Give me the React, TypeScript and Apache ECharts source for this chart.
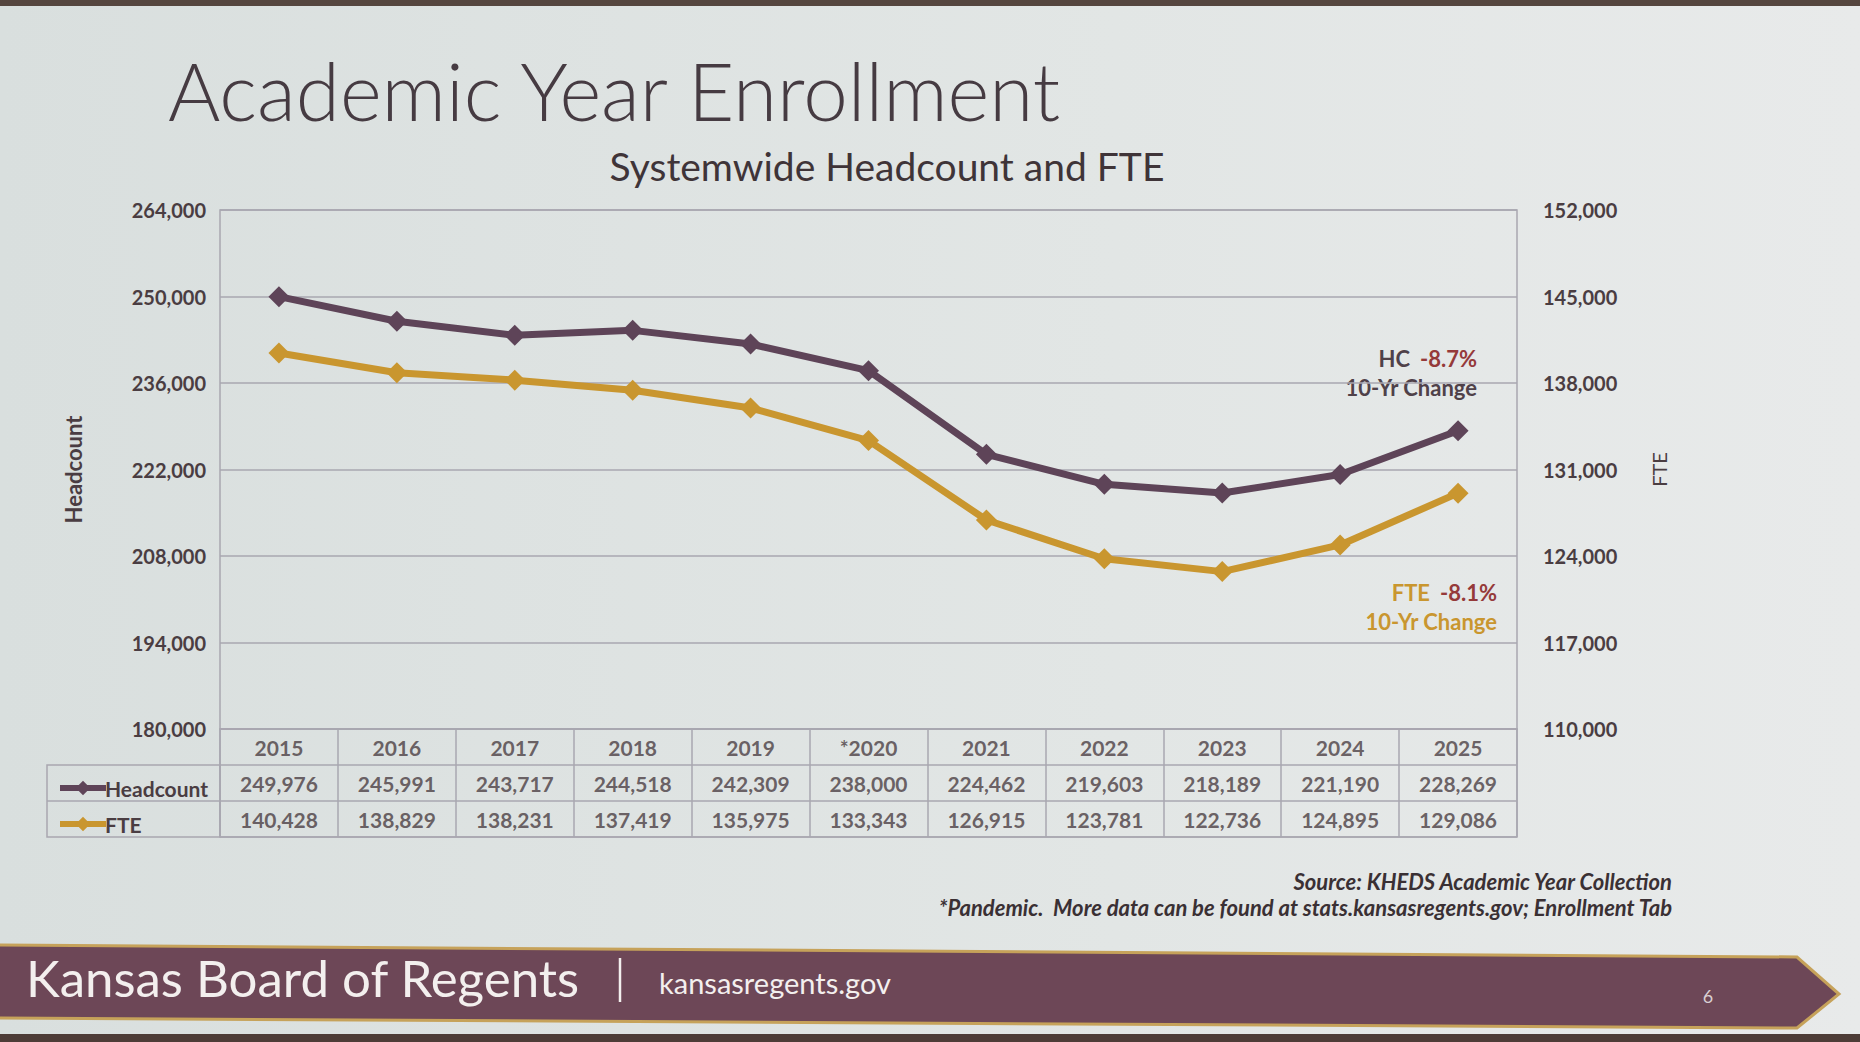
import React, { useEffect, useRef } from "react";
import * as echarts from "echarts";

// Academic-year enrollment, systemwide
const years = ["2015", "2016", "2017", "2018", "2019", "*2020", "2021", "2022", "2023", "2024", "2025"];
const headcount = [249976, 245991, 243717, 244518, 242309, 238000, 224462, 219603, 218189, 221190, 228269];
const fte = [140428, 138829, 138231, 137419, 135975, 133343, 126915, 123781, 122736, 124895, 129086];

// Axis tick ranges
const hcMin = 180000;
const hcMax = 264000;
const hcStep = 14000;
const fteMin = 110000;
const fteMax = 152000;
const fteStep = 7000;

// Rows of the data table under the plot
const tableRows = ["Year", "Headcount", "FTE"];

const FONT = "Lato, 'Open Sans', sans-serif";
const TXT = "#4a3d42";
const HC_C = "#5e4458";
const FTE_C = "#c9962f";
const GRID_C = "#a9a7b0";
const BANNER = "#6d4757";

const fmt = (v: number) => v.toLocaleString("en-US");
const pct = (arr: number[]) => (((arr[arr.length - 1] - arr[0]) / arr[0]) * 100).toFixed(1) + "%";

export default function App() {
  const ref = useRef<HTMLDivElement>(null);

  useEffect(() => {
    if (!ref.current) return;
    const chart = echarts.init(ref.current, undefined, { renderer: "svg" });

    const GL = 220;
    const GW = 1297;
    const GT = 210;
    const GH = 519;
    const ROW = 36;
    const TT = GT + GH;

    // Cells of the table: [column, row, text]
    const cells: any[] = [];
    years.forEach((y, i) => {
      cells.push([i, tableRows[0], y]);
      cells.push([i, tableRows[1], fmt(headcount[i])]);
      cells.push([i, tableRows[2], fmt(fte[i])]);
    });

    const noteStyle = (fill: string) => ({ fontFamily: FONT, fontWeight: "bold", fontSize: 22, fill });

    const option: any = {
      animation: false,
      backgroundColor: {
        type: "linear",
        x: 0,
        y: 0,
        x2: 1,
        y2: 0,
        colorStops: [
          { offset: 0, color: "#d9dfde" },
          { offset: 0.6, color: "#e2e6e5" },
          { offset: 1, color: "#e8eaea" },
        ],
      },
      legend: {
        orient: "vertical",
        left: 52,
        top: TT + ROW + (ROW - 22) / 2,
        itemWidth: 46,
        itemHeight: 18,
        itemGap: ROW - 22,
        data: ["Headcount", "FTE"],
        lineStyle: { width: 6 },
        textStyle: {
          fontFamily: FONT,
          fontWeight: "bold",
          fontSize: 21,
          color: TXT,
          lineHeight: 22,
          padding: [0, 0, 0, -6],
        },
      },
      grid: [
        { left: GL, top: GT, width: GW, height: GH, show: true, borderColor: GRID_C, borderWidth: 1.5 },
        { left: GL, top: TT, width: GW, height: ROW * 3, show: true, borderColor: GRID_C, borderWidth: 1.5 },
      ],
      xAxis: [
        {
          type: "category",
          gridIndex: 0,
          data: years,
          boundaryGap: true,
          axisLabel: { show: false },
          axisTick: { show: false },
          axisLine: { show: true, lineStyle: { color: GRID_C, width: 1.5 } },
          splitLine: { show: false },
        },
        {
          type: "category",
          gridIndex: 1,
          data: years,
          boundaryGap: true,
          axisLabel: { show: false },
          axisTick: { show: false },
          axisLine: { show: false },
          splitLine: { show: true, interval: 0, lineStyle: { color: GRID_C, width: 1.5 } },
        },
      ],
      yAxis: [
        {
          type: "value",
          gridIndex: 0,
          position: "left",
          min: 0,
          max: hcMax - hcMin,
          interval: hcStep,
          axisLine: { show: false },
          axisTick: { show: false },
          axisLabel: {
            formatter: (v: number) => fmt(v + hcMin),
            fontFamily: FONT,
            fontWeight: "bold",
            fontSize: 20,
            color: TXT,
            margin: 14,
          },
          splitLine: { show: true, lineStyle: { color: GRID_C, width: 1.5 } },
          name: "Headcount",
          nameLocation: "middle",
          nameGap: 136,
          nameRotate: 90,
          nameTextStyle: { fontFamily: FONT, fontWeight: "bold", fontSize: 22, color: TXT },
        },
        {
          type: "value",
          gridIndex: 0,
          position: "right",
          min: 0,
          max: fteMax - fteMin,
          interval: fteStep,
          axisLine: { show: false },
          axisTick: { show: false },
          axisLabel: {
            formatter: (v: number) => fmt(v + fteMin),
            fontFamily: FONT,
            fontWeight: "bold",
            fontSize: 20,
            color: TXT,
            margin: 26,
          },
          splitLine: { show: false },
          name: "FTE",
          nameLocation: "middle",
          nameGap: 132,
          nameRotate: 90,
          nameTextStyle: { fontFamily: FONT, fontSize: 20, color: TXT },
        },
        {
          type: "category",
          gridIndex: 1,
          data: tableRows,
          inverse: true,
          boundaryGap: true,
          axisLabel: { show: false },
          axisTick: { show: false },
          axisLine: { show: false },
          splitLine: { show: true, interval: 0, lineStyle: { color: GRID_C, width: 1.5 } },
        },
      ],
      series: [
        {
          name: "Headcount",
          type: "line",
          xAxisIndex: 0,
          yAxisIndex: 0,
          data: headcount.map((v) => v - hcMin),
          symbol: "diamond",
          symbolSize: 21,
          lineStyle: { width: 7, color: HC_C },
          itemStyle: { color: HC_C },
          z: 3,
        },
        {
          name: "FTE",
          type: "line",
          xAxisIndex: 0,
          yAxisIndex: 1,
          data: fte.map((v) => v - fteMin),
          symbol: "diamond",
          symbolSize: 21,
          lineStyle: { width: 7, color: FTE_C },
          itemStyle: { color: FTE_C },
          z: 3,
        },
        {
          type: "scatter",
          xAxisIndex: 1,
          yAxisIndex: 2,
          symbolSize: 1,
          silent: true,
          itemStyle: { color: "transparent" },
          data: cells,
          label: {
            show: true,
            position: "inside",
            formatter: (p: any) => p.value[2],
            fontFamily: FONT,
            fontWeight: "bold",
            fontSize: 21,
            color: TXT,
          },
        },
      ],
      graphic: [
        // dark strip along the top edge
        { type: "rect", shape: { x: 0, y: 0, width: 1860, height: 6 }, style: { fill: "#55463f" } },
        {
          type: "text",
          x: 168,
          y: 90,
          style: {
            text: "Academic Year Enrollment",
            fontFamily: FONT,
            fontWeight: 300,
            fontSize: 80,
            fill: "#463b42",
            textAlign: "left",
            textVerticalAlign: "middle",
          },
        },
        {
          type: "text",
          x: 887,
          y: 166,
          style: {
            text: "Systemwide Headcount and FTE",
            fontFamily: FONT,
            fontSize: 39,
            fill: "#3f3438",
            textAlign: "center",
            textVerticalAlign: "middle",
          },
        },
        // key column of the table
        {
          type: "rect",
          shape: { x: 47, y: TT + ROW, width: GL - 47, height: ROW * 2 },
          style: { fill: "none", stroke: GRID_C, lineWidth: 1.5 },
        },
        {
          type: "line",
          shape: { x1: 47, y1: TT + ROW * 2, x2: GL, y2: TT + ROW * 2 },
          style: { stroke: GRID_C, lineWidth: 1.5 },
        },
        // 10-year change notes
        {
          type: "text",
          x: 1477,
          y: 358,
          style: {
            text: "{a|HC}   {b|" + pct(headcount) + "}",
            textAlign: "right",
            textVerticalAlign: "middle",
            rich: { a: noteStyle("#4f4149"), b: noteStyle("#953a3a") },
          },
        },
        {
          type: "text",
          x: 1477,
          y: 387,
          style: {
            text: "10-Yr Change",
            ...noteStyle("#4f4149"),
            textAlign: "right",
            textVerticalAlign: "middle",
          },
        },
        {
          type: "text",
          x: 1497,
          y: 592,
          style: {
            text: "{a|FTE}   {b|" + pct(fte) + "}",
            textAlign: "right",
            textVerticalAlign: "middle",
            rich: { a: noteStyle(FTE_C), b: noteStyle("#953a3a") },
          },
        },
        {
          type: "text",
          x: 1497,
          y: 621,
          style: {
            text: "10-Yr Change",
            ...noteStyle(FTE_C),
            textAlign: "right",
            textVerticalAlign: "middle",
          },
        },
        // source notes
        {
          type: "text",
          x: 1672,
          y: 881,
          style: {
            text: "Source: KHEDS Academic Year Collection",
            fontFamily: FONT,
            fontStyle: "italic",
            fontWeight: "bold",
            fontSize: 22,
            fill: "#3a3034",
            textAlign: "right",
            textVerticalAlign: "middle",
          },
        },
        {
          type: "text",
          x: 1672,
          y: 907,
          style: {
            text: "*Pandemic.  More data can be found at stats.kansasregents.gov; Enrollment Tab",
            fontFamily: FONT,
            fontStyle: "italic",
            fontWeight: "bold",
            fontSize: 22,
            fill: "#3a3034",
            textAlign: "right",
            textVerticalAlign: "middle",
          },
        },
        // footer banner
        {
          type: "polygon",
          shape: {
            points: [
              [-4, 945],
              [1797, 957],
              [1839, 994],
              [1797, 1028],
              [-4, 1018],
            ],
          },
          style: { fill: BANNER, stroke: "#c6a25a", lineWidth: 3 },
        },
        {
          type: "text",
          x: 26,
          y: 977,
          style: {
            text: "Kansas Board of Regents",
            fontFamily: FONT,
            fontSize: 51,
            fill: "#f3efee",
            textAlign: "left",
            textVerticalAlign: "middle",
          },
        },
        {
          type: "line",
          shape: { x1: 620, y1: 958, x2: 620, y2: 1002 },
          style: { stroke: "#f3efee", lineWidth: 2.5 },
        },
        {
          type: "text",
          x: 659,
          y: 982,
          style: {
            text: "kansasregents.gov",
            fontFamily: FONT,
            fontSize: 29,
            fill: "#f3efee",
            textAlign: "left",
            textVerticalAlign: "middle",
          },
        },
        {
          type: "text",
          x: 1708,
          y: 996,
          style: {
            text: "6",
            fontFamily: FONT,
            fontSize: 18,
            fill: "#d9cfd2",
            textAlign: "center",
            textVerticalAlign: "middle",
          },
        },
        // dark strip along the bottom edge
        { type: "rect", shape: { x: 0, y: 1034, width: 1860, height: 8 }, style: { fill: "#4d3c37" } },
      ],
    };

    chart.setOption(option);
    return () => chart.dispose();
  }, []);

  return (
    <div
      ref={ref}
      style={{ position: "absolute", left: 0, top: 0, width: 1860, height: 1042 }}
    />
  );
}
